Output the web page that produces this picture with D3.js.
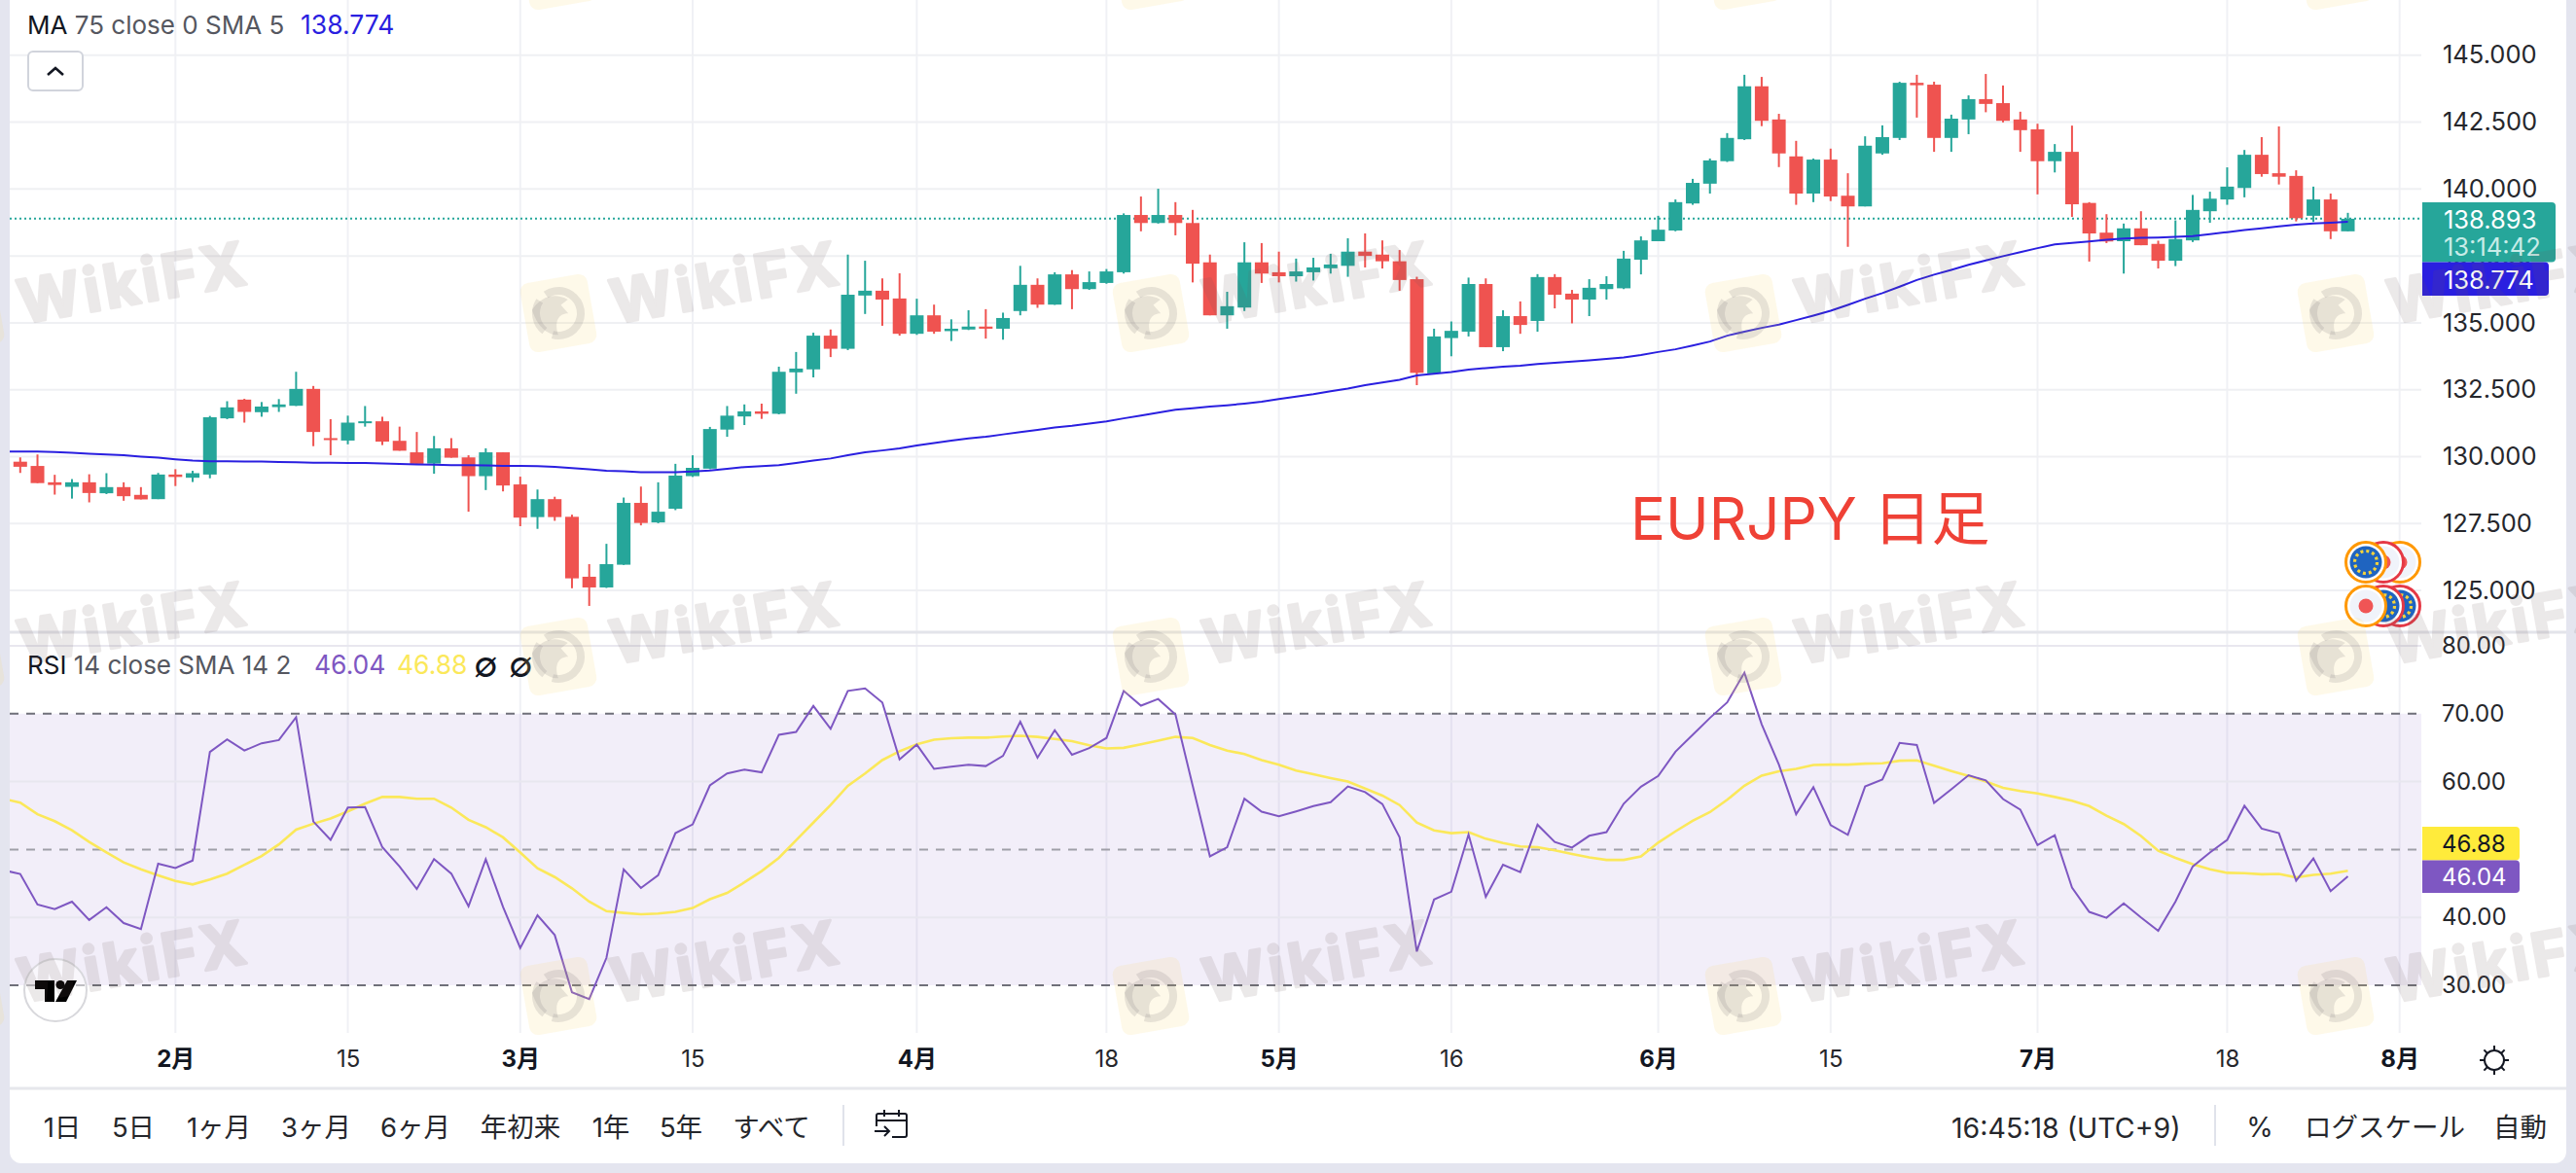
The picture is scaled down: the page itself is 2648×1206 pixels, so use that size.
<!DOCTYPE html>
<html><head><meta charset="utf-8">
<style>
html,body{margin:0;padding:0;background:#e4e5ef;}
svg{display:block;}
text{font-family:Inter,"Noto Sans CJK JP",sans-serif;}
</style>
<script src="https://cdn.jsdelivr.net/npm/d3@7"></script>
</head><body><svg id="c" width="2648" height="1206"></svg>
<script>
// ---------- data ----------
const opens=[129.81,129.65,129.04,128.87,129.04,128.63,128.86,128.57,128.41,129.33,
129.21,129.33,131.43,132.13,131.66,131.85,131.90,132.53,130.69,130.60,
131.26,131.32,130.59,130.16,129.74,130.31,129.97,129.27,130.16,128.96,
127.74,128.41,127.75,125.51,125.11,125.96,128.27,127.54,128.05,129.27,
129.55,131.01,131.50,131.69,131.60,133.15,133.26,134.52,134.03,
136.02,136.20,135.91,134.59,135.28,134.69,134.75,134.86,134.78,135.44,
136.42,135.68,136.81,136.26,136.49,136.89,139.03,138.73,139.03,138.73,
137.26,135.28,135.57,137.26,136.89,136.74,136.89,137.04,137.13,137.66,
137.55,137.30,136.63,133.11,134.43,134.67,136.45,134.09,135.25,135.07,
136.71,136.09,135.87,136.26,136.29,137.36,138.05,138.45,139.46,140.20,
141.04,141.86,143.84,142.60,141.22,139.83,141.10,139.75,139.35,141.33,
141.91,143.97,143.90,141.91,142.60,143.36,143.21,142.60,142.23,141.04,
141.39,139.48,138.37,138.05,138.53,137.95,137.32,138.08,139.17,139.61,
140.04,141.28,140.59,140.49,139.00,139.61,138.42];
const highs=[129.97,130.08,129.32,129.16,129.34,129.38,129.04,128.86,129.39,129.53,
129.47,131.52,132.07,132.16,132.04,132.15,133.17,132.64,131.40,131.53,
131.89,131.49,131.12,130.92,130.77,130.69,130.05,130.31,130.16,129.25,
128.77,128.50,127.83,125.98,126.74,128.47,128.88,129.04,129.73,130.05,
131.11,131.89,131.95,131.98,133.36,133.91,134.63,134.75,137.55,
137.32,136.66,136.85,135.90,135.68,135.13,135.47,135.51,135.38,137.13,
136.66,136.89,136.97,136.92,137.01,139.09,139.72,140.01,139.51,139.22,
137.55,136.16,138.01,137.98,137.66,137.40,137.43,137.58,138.16,138.34,
138.08,137.72,136.72,134.78,135.05,136.69,136.66,135.47,135.80,136.82,
136.82,136.23,136.63,136.74,137.69,138.23,139.00,139.61,140.38,141.14,
142.09,144.27,144.19,142.81,141.80,141.14,141.51,140.59,141.97,142.38,
144.01,144.27,144.01,142.78,143.50,144.30,143.87,142.89,142.44,141.68,
142.37,139.51,139.06,138.71,139.17,138.07,138.83,139.78,139.90,140.81,
141.46,141.94,142.34,140.70,140.09,139.83,139.11];
const lows=[129.39,129.01,128.58,128.43,128.29,128.60,128.35,128.40,128.41,128.90,
129.05,129.19,131.40,131.27,131.49,131.67,131.89,130.39,130.05,130.46,
131.12,130.43,130.22,129.73,129.36,129.96,127.94,128.75,128.70,127.40,
127.30,127.60,125.08,124.42,125.09,125.95,127.43,127.51,128.00,129.24,
129.53,130.74,131.18,131.41,131.58,132.35,132.96,133.72,133.98,
135.33,134.89,134.52,134.55,134.59,134.32,134.73,134.41,134.37,135.28,
135.56,135.67,135.51,136.23,136.46,136.84,138.42,138.71,138.27,136.51,
135.28,134.78,135.44,136.49,136.51,136.54,136.58,136.84,136.72,137.07,
137.03,136.20,132.67,133.08,133.75,134.49,134.09,133.94,134.59,134.67,
135.54,134.98,135.25,135.87,136.26,136.81,138.05,138.42,139.41,139.83,
141.01,141.83,142.35,140.82,139.41,139.51,139.55,137.84,139.35,141.28,
141.83,142.67,141.39,141.39,142.05,142.87,142.49,141.39,139.80,140.62,
138.96,137.29,137.98,136.84,137.90,137.03,137.12,138.02,138.74,139.41,
139.69,140.46,140.17,138.79,138.77,138.13,138.42];
const closes=[129.62,129.01,128.94,129.04,128.64,128.86,128.52,128.40,129.33,129.24,
129.38,131.47,131.84,131.67,131.87,131.95,132.53,130.92,130.62,131.27,
131.32,130.56,130.22,129.73,130.31,129.96,129.27,130.16,128.92,127.72,
128.41,127.74,125.45,125.11,125.98,128.27,127.52,127.94,129.29,129.58,
131.03,131.53,131.69,131.60,133.17,133.29,134.52,134.03,136.05,
136.20,135.87,134.59,135.28,134.67,134.78,134.86,134.78,135.18,136.42,
135.68,136.81,136.26,136.52,136.92,139.03,138.73,139.03,138.73,137.21,
135.28,135.62,137.26,136.84,136.74,136.92,137.07,137.18,137.66,137.50,
137.30,136.60,133.13,134.49,134.70,136.45,134.09,135.25,134.92,136.71,
136.05,135.87,136.31,136.45,137.40,138.08,138.48,139.51,140.23,141.07,
141.91,143.84,142.55,141.33,139.83,141.10,139.72,139.35,141.62,141.94,
143.97,143.88,141.91,142.63,143.36,143.18,142.55,142.20,141.04,141.39,
139.43,138.34,138.04,138.53,137.90,137.32,138.13,139.22,139.64,140.09,
141.28,140.56,140.46,138.91,139.61,138.42,138.89];
// series values start one bar before the first visible candle
const ma75=[130.19,130.19,130.19,130.17,130.14,130.11,130.08,130.05,130.00,129.96,129.90,
129.85,129.83,129.83,129.82,129.82,129.80,129.79,129.77,129.77,129.76,
129.76,129.74,129.73,129.71,129.70,129.68,129.68,129.67,129.65,129.65,
129.64,129.62,129.57,129.53,129.47,129.45,129.42,129.42,129.42,129.44,
129.48,129.54,129.61,129.64,129.68,129.76,129.85,129.93,130.05,
130.16,130.23,130.31,130.42,130.51,130.60,130.68,130.74,130.83,130.92,
131.00,131.09,131.15,131.23,131.32,131.43,131.53,131.64,131.75,131.81,
131.87,131.92,131.98,132.05,132.15,132.24,132.33,132.44,132.54,132.67,
132.77,132.87,133.03,133.10,133.16,133.25,133.31,133.36,133.40,133.46,
133.51,133.55,133.60,133.65,133.71,133.80,133.91,134.01,134.15,134.30,
134.52,134.67,134.81,134.93,135.10,135.27,135.45,135.67,135.90,136.11,
136.35,136.60,136.80,136.98,137.17,137.33,137.49,137.64,137.79,137.93,
137.99,138.04,138.10,138.15,138.18,138.19,138.21,138.24,138.31,138.39,
138.47,138.53,138.60,138.67,138.71,138.74,138.774];
const rsi14=[46.97,46.40,41.90,41.23,42.32,39.62,41.49,39.16,38.28,47.90,47.28,
48.37,64.36,66.22,64.57,65.65,66.12,69.48,54.12,51.42,56.18,
56.24,50.34,47.49,44.18,48.58,46.46,41.64,48.58,41.54,35.49,
40.30,37.40,28.96,27.98,34.04,47.08,44.33,46.20,52.41,53.70,
59.44,61.20,61.77,61.36,66.90,67.31,71.14,67.77,73.36,
73.73,71.66,63.27,65.45,61.88,62.19,62.50,62.29,63.79,68.81,
63.53,67.57,63.95,64.93,66.43,73.36,71.19,72.17,69.90,59.39,
48.99,50.34,57.48,55.56,54.89,55.61,56.39,56.96,59.29,58.46,
56.70,51.79,34.97,42.63,43.77,52.20,43.04,47.75,46.66,53.65,
51.11,50.29,52.02,52.56,56.75,59.24,60.84,64.41,66.90,69.38,
71.66,76.05,68.45,62.50,55.20,59.19,53.60,52.15,59.29,60.32,
65.70,65.39,56.86,58.87,60.94,60.17,57.43,55.87,50.65,52.10,
44.39,40.81,39.94,42.06,39.99,38.02,42.32,47.49,49.56,51.42,
56.44,53.08,52.41,45.42,48.68,43.87,46.04];
const rsiSma=[57.48,56.91,55.20,54.17,52.82,51.11,49.56,48.11,47.08,46.20,45.37,
44.85,45.58,46.45,47.75,49.04,50.75,52.92,53.80,54.58,55.61,
56.75,57.74,57.74,57.48,57.48,56.18,54.37,53.29,51.79,49.56,
47.23,45.94,44.28,42.32,40.92,40.66,40.45,40.56,40.81,41.38,
42.68,43.61,45.16,46.82,48.78,51.37,53.96,56.55,59.39,
61.20,63.17,64.47,65.50,66.17,66.38,66.48,66.48,66.64,66.74,
66.59,66.27,65.96,65.34,64.88,64.98,65.50,66.02,66.59,66.43,
65.40,64.57,64.05,63.17,62.50,61.62,61.10,60.53,60.01,58.98,
57.94,56.55,53.96,52.82,52.41,52.56,51.58,50.96,50.44,50.34,
49.87,49.35,48.84,48.47,48.47,48.99,51.01,52.67,54.22,55.51,
57.32,59.39,60.89,61.51,61.88,62.45,62.50,62.50,62.65,62.70,
63.07,63.12,62.34,61.57,60.84,60.01,59.08,58.62,58.25,57.74,
57.17,56.39,54.99,53.75,52.00,49.82,48.78,47.85,47.08,46.56,
46.51,46.35,46.40,45.89,46.25,46.45,46.88];
const priceTicks=[145,142.5,140,137.5,135,132.5,130,127.5,125];
const rsiTicks=[80,70,60,50,40,30];
const timeTickBars=[9,19,29,39,52,63,73,83,95,105,117,128,138];
const timeTickLabels=["2月","15","3月","15","4月","18","5月","16","6月","15","7月","18","8月"];
const rangeLabels=["1日","5日","1ヶ月","3ヶ月","6ヶ月","年初来","1年","5年","すべて"];
const lastClose=138.893, lastMA=138.774, lastRSI=46.04, lastSMA=46.88;
if(![opens,highs,lows,closes].every(a=>a.length===136)) throw new Error("ohlc "+[opens,highs,lows,closes].map(a=>a.length));
if(![ma75,rsi14,rsiSma].every(a=>a.length===137)) throw new Error("series "+[ma75,rsi14,rsiSma].map(a=>a.length));

// ---------- layout ----------
const W=2648,H=1206,L=10,R=2489,CARD_R=2638;
const GREEN="#26a69a",RED="#ef5350",BLUE="#2a1fe0",PURPLE="#7e57c2",YELLOW="#ffeb3b";
const svg=d3.select("#c");
const x=d3.scaleLinear().domain([0,135]).range([20.8,2413.5]);
const yP=d3.scaleLinear().domain([125,145]).range([607,56.8]);
const yR=d3.scaleLinear().domain([30,70]).range([1013,733.8]);
const defs=svg.append("defs");
defs.append("clipPath").attr("id","plot").append("rect").attr("x",L).attr("y",0).attr("width",R-L).attr("height",1062);

// card
svg.append("rect").attr("width",W).attr("height",H).attr("fill","#e4e5ef");
svg.append("rect").attr("x",L).attr("y",-12).attr("width",CARD_R-L).attr("height",1208).attr("rx",12).attr("fill","#fff");

// grids
const g=svg.append("g");
g.selectAll("line.v").data(timeTickBars).join("line").attr("x1",d=>x(d)).attr("x2",d=>x(d)).attr("y1",0).attr("y2",1062).attr("stroke","#f0f1f5").attr("stroke-width",2);
g.selectAll("line.p").data(priceTicks).join("line").attr("class","p").attr("x1",L).attr("x2",R).attr("y1",d=>yP(d)).attr("y2",d=>yP(d)).attr("stroke","#eff0f3").attr("stroke-width",2);
g.append("rect").attr("x",L).attr("y",yR(70)).attr("width",R-L).attr("height",yR(30)-yR(70)).attr("fill","rgba(126,87,194,.1)");
g.selectAll("line.r").data(rsiTicks.filter(d=>d%20===0)).join("line").attr("class","r").attr("x1",L).attr("x2",R).attr("y1",d=>yR(d)).attr("y2",d=>yR(d)).attr("stroke","#e8e7ef").attr("stroke-width",2);
g.selectAll("line.d").data([70,50,30]).join("line").attr("class","d").attr("x1",L).attr("x2",R).attr("y1",d=>yR(d)).attr("y2",d=>yR(d))
 .attr("stroke",d=>d===50?"#9f9fa8":"#6f7079").attr("stroke-width",2).attr("stroke-dasharray","9 8");
svg.append("line").attr("x1",L).attr("x2",CARD_R).attr("y1",650).attr("y2",650).attr("stroke","#e3e4ea").attr("stroke-width",3);

// last price line
svg.append("line").attr("x1",L).attr("x2",R).attr("y1",yP(lastClose)).attr("y2",yP(lastClose)).attr("stroke",GREEN).attr("stroke-width",2).attr("stroke-dasharray","2 3");

// series lines
const plot=svg.append("g").attr("clip-path","url(#plot)");
const line=(y)=>d3.line().x((d,i)=>x(i-1)).y(d=>y(d));

// candles
const bars=plot.selectAll("g.c").data(d3.range(opens.length)).join("g").attr("class","c")
 .attr("fill",i=>closes[i]>=opens[i]?GREEN:RED).attr("stroke",i=>closes[i]>=opens[i]?GREEN:RED);
bars.append("line").attr("x1",i=>x(i)).attr("x2",i=>x(i)).attr("y1",i=>yP(highs[i])).attr("y2",i=>yP(lows[i])).attr("stroke-width",2);
bars.append("rect").attr("x",i=>x(i)-7).attr("width",14).attr("y",i=>yP(Math.max(opens[i],closes[i])))
 .attr("height",i=>Math.max(2,Math.abs(yP(opens[i])-yP(closes[i])))).attr("stroke","none");
plot.append("path").attr("d",line(yP)(ma75)).attr("fill","none").attr("stroke",BLUE).attr("stroke-width",2);

plot.append("path").attr("d",line(yR)(rsiSma)).attr("fill","none").attr("stroke","#fbe85a").attr("stroke-width",2.6);
plot.append("path").attr("d",line(yR)(rsi14)).attr("fill","none").attr("stroke",PURPLE).attr("stroke-width",2);

// axes
const styleAxis=(sel,size,color)=>{sel.select(".domain").remove();sel.selectAll("line").remove();
  sel.selectAll("text").attr("fill",color).style("font-size",size+"px");};
svg.append("g").attr("transform",`translate(${R},0)`).call(d3.axisRight(yP).tickValues(priceTicks).tickFormat(d3.format(".3f")).tickSize(0).tickPadding(22)).call(styleAxis,25.5,"#26272c");
svg.append("g").attr("transform",`translate(${R},0)`).call(d3.axisRight(yR).tickValues(rsiTicks).tickFormat(d3.format(".2f")).tickSize(0).tickPadding(21)).call(styleAxis,24,"#26272c");
const tAxis=svg.append("g").attr("transform","translate(0,1062)").call(d3.axisBottom(x).tickValues(timeTickBars).tickFormat((d,i)=>timeTickLabels[i]).tickSize(0).tickPadding(18));
styleAxis(tAxis,24,"#26272c");
tAxis.selectAll("text").attr("font-weight",(d,i)=>timeTickLabels[i].includes("月")?700:400).attr("fill",(d,i)=>timeTickLabels[i].includes("月")?"#131722":"#26272c");

// price tags
const tag=(x0,x1,y0,y1,fill)=>svg.append("path")
 .attr("d",`M${x0},${y0}H${x1-4}a4,4 0 0 1 4,4V${y1-4}a4,4 0 0 1 -4,4H${x0}Z`).attr("fill",fill);
const txt=(s,xx,yy,size,fill,extra)=>{const t=svg.append("text").attr("x",xx).attr("y",yy).attr("dominant-baseline","central").attr("font-size",size).attr("fill",fill).text(s);if(extra)extra(t);return t;};
tag(R+1,2627,208,269.5,GREEN);
tag(R+1,2620,269.5,304,BLUE);
tag(R+1,2590,850,884.5,YELLOW);
tag(R+1,2590,884.5,918,PURPLE);
txt(d3.format(".3f")(lastClose),2512,225,25.5,"#fff");
txt("13:14:42",2512,253,25.5,"#c8ece8");
txt(d3.format(".3f")(lastMA),2512,287,25.5,"#fff");
txt(d3.format(".2f")(lastSMA),2510,867,24,"#131722");
txt(d3.format(".2f")(lastRSI),2510,901,24,"#fff");

// legends
const leg1=svg.append("text").attr("x",28).attr("y",25).attr("dominant-baseline","central").attr("font-size",26);
leg1.append("tspan").attr("fill","#131722").text("MA ");
leg1.append("tspan").attr("fill","#555760").text("75 close 0 SMA 5");
txt(d3.format(".3f")(lastMA),309,25,26.5,BLUE);
const leg2=svg.append("text").attr("x",28).attr("y",683).attr("dominant-baseline","central").attr("font-size",26);
leg2.append("tspan").attr("fill","#131722").text("RSI ");
leg2.append("tspan").attr("fill","#555760").text("14 close SMA 14 2");
txt(d3.format(".2f")(lastRSI),323,683,26.5,PURPLE);
txt(d3.format(".2f")(lastSMA),408,683,26.5,"#fbe85a");
txt("∅",487,683,36,"#131722");
txt("∅",523,683,36,"#131722");

// collapse button
svg.append("rect").attr("x",29).attr("y",53).attr("width",56).attr("height",40).attr("rx",5).attr("fill","#fff").attr("stroke","#d1d4dc").attr("stroke-width",2);
svg.append("path").attr("d","M49,77l8,-7l8,7").attr("fill","none").attr("stroke","#131722").attr("stroke-width",2.6);

// title
txt("EURJPY 日足",1676,533,60,"#ef4136");

// flag markers
const flag=(cx,cy,ring,kind)=>{
  svg.append("circle").attr("cx",cx).attr("cy",cy).attr("r",20.5).attr("fill","#fff").attr("stroke",ring).attr("stroke-width",3);
  svg.append("circle").attr("cx",cx).attr("cy",cy).attr("r",16.5).attr("fill",kind==="eu"?"#1f64c0":"#f0f3fa");
  if(kind==="jp") svg.append("circle").attr("cx",cx).attr("cy",cy).attr("r",7.5).attr("fill","#f05555");
  if(kind==="eu"){ svg.append("circle").attr("cx",cx).attr("cy",cy).attr("r",11.5).attr("fill","none").attr("stroke","#f5d33c").attr("stroke-width",3.2).attr("stroke-dasharray","3 3.02"); }
};
flag(2467,578,"#ff9800","jp");flag(2450,578,"#e53946","jp");flag(2432,578,"#ff9800","eu");
flag(2467,623,"#e53946","eu");flag(2450,623,"#e53946","eu");flag(2432,623,"#ff9800","jp");

// TV logo
svg.append("circle").attr("cx",57).attr("cy",1018).attr("r",32).attr("fill","rgba(255,255,255,.55)").attr("stroke","#d8d8dc").attr("stroke-width",2);
svg.append("path").attr("d","M36,1008H56V1030H46V1017H36Z").attr("fill","#000");
svg.append("circle").attr("cx",62).attr("cy",1012.5).attr("r",4.5).attr("fill","#000");
svg.append("path").attr("d","M69,1008H79L68,1030H57Z").attr("fill","#000");

// toolbar
svg.append("line").attr("x1",L).attr("x2",CARD_R).attr("y1",1119).attr("y2",1119).attr("stroke","#e6e7ec").attr("stroke-width",3);
const rangeX=[64,137,225,325,427,535,628,700,793];
svg.selectAll("text.rg").data(rangeLabels).join("text").attr("class","rg").attr("x",(d,i)=>rangeX[i]).attr("y",1159).attr("text-anchor","middle").attr("dominant-baseline","central").attr("font-size",27.5).attr("fill","#26272c").text(d=>d);
svg.append("line").attr("x1",867).attr("x2",867).attr("y1",1136).attr("y2",1178).attr("stroke","#e0e3eb").attr("stroke-width",2);
svg.append("path").attr("d","M901,1158V1147a2,2 0 0 1 2,-2H930a2,2 0 0 1 2,2V1167a2,2 0 0 1 -2,2H917M901,1152H932M909,1141V1148M924,1141V1148M899,1163H914M909,1158l5,5l-5,5").attr("fill","none").attr("stroke","#131722").attr("stroke-width",2);
txt("16:45:18 (UTC+9)",2006,1159,28.5,"#26272c");
svg.append("line").attr("x1",2277).attr("x2",2277).attr("y1",1136).attr("y2",1178).attr("stroke","#e0e3eb").attr("stroke-width",2);
txt("%",2323,1159,28,"#26272c",t=>t.attr("text-anchor","middle"));
txt("ログスケール",2369,1159,27.5,"#26272c");
txt("自動",2563,1159,27.5,"#26272c");
// gear / sun
svg.append("circle").attr("cx",2564).attr("cy",1090).attr("r",10).attr("fill","none").attr("stroke","#131722").attr("stroke-width",2);
d3.range(8).forEach(k=>{const a=k*Math.PI/4;svg.append("line").attr("x1",2564+Math.cos(a)*10).attr("y1",1090+Math.sin(a)*10).attr("x2",2564+Math.cos(a)*15).attr("y2",1090+Math.sin(a)*15).attr("stroke","#131722").attr("stroke-width",2);});

// watermark (repeated brand stamp)
const wm=svg.append("g").attr("pointer-events","none");
const stamp=(lx,ly)=>{
  const lg=wm.append("g").attr("transform",`translate(${lx},${ly}) rotate(-10)`);
  lg.append("rect").attr("x",-35).attr("y",-36).attr("width",70).attr("height",72).attr("rx",9).attr("fill","rgba(250,215,110,.15)");
  lg.append("circle").attr("r",23).attr("fill","none").attr("stroke","rgba(120,110,118,.17)").attr("stroke-width",8).attr("stroke-dasharray","46 9 34 9 46 9");
  lg.append("path").attr("d","M-26,-8C-15,-20 0,-22 12,-12L4,-8L10,2C0,0 -6,8 -4,22C-16,20 -24,8 -26,-8Z").attr("fill","rgba(120,110,118,.17)");
};
[290,640,988].forEach(y=>{
  d3.range(5).forEach(k=>{
    const tx=137+609*k;
    wm.append("text").attr("transform",`translate(${tx},${y}) rotate(-10)`).attr("text-anchor","middle").attr("dominant-baseline","central")
      .attr("font-size",62).attr("font-weight",700).attr("letter-spacing",4).attr("fill","#6e5a5a").attr("stroke","#6e5a5a").attr("stroke-width",3).attr("stroke-linejoin","round").attr("paint-order","stroke").attr("opacity",.13).attr("font-family","Open Sans").text("WikiFX");
  });
});
[-30,322,675,1024].forEach(y=>{
  d3.range(-1,5).forEach(k=>stamp(574+609*k,y));
});
</script></body></html>
